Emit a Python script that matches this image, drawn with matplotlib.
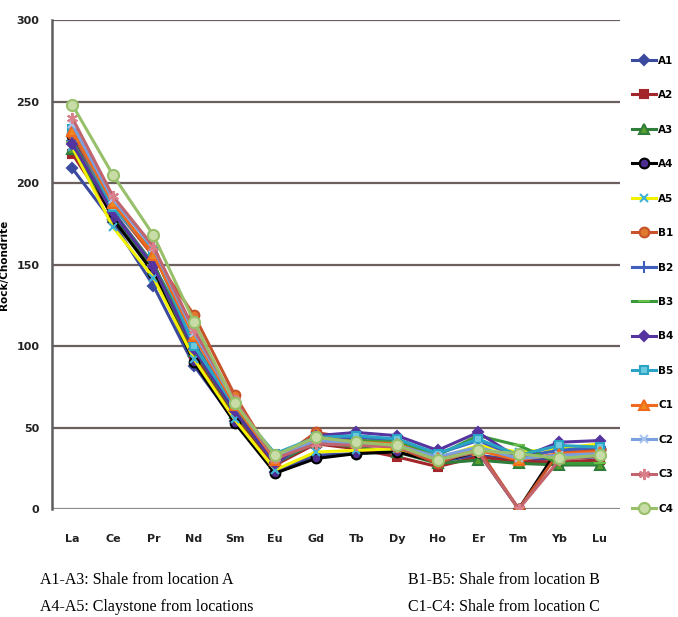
import numpy as np
import matplotlib
matplotlib.use("Agg")
import matplotlib.pyplot as plt

elements = ["La", "Ce", "Pr", "Nd", "Sm", "Eu", "Gd", "Tb", "Dy", "Ho", "Er", "Tm", "Yb", "Lu"]

# normalised REE values
A1 = [209, 176, 137, 88, 54, 23, 33, 34, 36, 29, 33, 30, 31, 32]
A2 = [218, 180, 146, 95, 57, 27, 40, 37, 32, 26, 32, 29, 29, 30]
A3 = [221, 181, 147, 97, 59, 28, 41, 38, 35, 28, 30, 28, 27, 27]
A4 = [229, 178, 145, 90, 53, 22, 31, 34, 35, 29, 35, 0, 38, 37]
A5 = [222, 173, 142, 92, 55, 24, 35, 36, 37, 31, 39, 35, 37, 40]
B1 = [230, 186, 155, 119, 70, 29, 47, 43, 38, 28, 37, 0, 35, 36]
B2 = [226, 183, 150, 102, 62, 28, 43, 44, 42, 34, 42, 32, 36, 38]
B3 = [225, 182, 150, 101, 61, 29, 42, 42, 41, 33, 45, 39, 28, 28]
B4 = [224, 182, 149, 98, 60, 28, 45, 47, 45, 36, 47, 31, 41, 42]
B5 = [233, 185, 158, 100, 63, 34, 44, 45, 43, 34, 43, 33, 39, 38]
C1 = [232, 188, 156, 106, 64, 30, 44, 41, 40, 31, 36, 30, 34, 35]
C2 = [236, 190, 160, 108, 66, 31, 42, 40, 39, 32, 38, 31, 33, 34]
C3 = [240, 192, 161, 110, 67, 31, 40, 39, 38, 30, 35, 0, 30, 33]
C4 = [248, 205, 168, 115, 65, 33, 44, 41, 39, 30, 36, 34, 31, 33]

samples = ["A1", "A2", "A3", "A4", "A5", "B1", "B2", "B3", "B4", "B5", "C1", "C2", "C3", "C4"]
values = [A1, A2, A3, A4, A5, B1, B2, B3, B4, B5, C1, C2, C3, C4]

# (line colour, marker, marker face, marker edge, marker size)
styles = [
    ("#3b4a9e", "D", "#3b4a9e", "#3b4a9e", 5),
    ("#a3262b", "s", "#a3262b", "#a3262b", 6),
    ("#2f7d3a", "^", "#5aa02c", "#2f7d3a", 7),
    ("#000000", "o", "#4b2d8f", "#000000", 7),
    ("#f2f200", "x", "#3fb3d6", "#3fb3d6", 6),
    ("#c8532a", "o", "#e07a2e", "#c8532a", 7),
    ("#3f5fbf", "+", "#3f5fbf", "#3f5fbf", 9),
    ("#3a9a3a", "_", "#6abf4b", "#6abf4b", 9),
    ("#5533a0", "D", "#5533a0", "#5533a0", 5),
    ("#2ba3c4", "s", "#6cc9e0", "#2ba3c4", 6),
    ("#f06a1e", "^", "#f08a20", "#f06a1e", 7),
    ("#7aa0e0", "x", "#a8c4f0", "#a8c4f0", 6),
    ("#c2646e", (6, 2, 0), "#d9808a", "#d9808a", 8),
    ("#98c06a", "o", "#c8dca8", "#98c06a", 8),
]

fig = plt.figure(figsize=(6.78, 6.17), dpi=100)
ax = fig.add_axes([0.0767, 0.175, 0.838, 0.7925])

x = np.arange(len(elements))
for name, vals, (lc, mk, mf, me, ms) in zip(samples, values, styles):
    ax.plot(x, vals, color=lc, lw=2.2, marker=mk, markerfacecolor=mf,
            markeredgecolor=me, markersize=ms, markeredgewidth=1.5, label=name)

ax.set_xlim(-0.5, len(elements) - 0.5)
ax.set_ylim(0, 300)
ax.set_yticks([0, 50, 100, 150, 200, 250, 300])
ax.set_xticks(x)
ax.set_xticklabels(elements)

for v in [50, 100, 150, 200, 250, 300]:
    ax.axhline(v, color="#6b605d", lw=1.6, zorder=0)
ax.axhline(0, color="#8a8a8a", lw=1.6, zorder=0)

for s in ["top", "right", "bottom"]:
    ax.spines[s].set_visible(False)
ax.spines["left"].set_color("#5e5e5e")
ax.spines["left"].set_linewidth(1.8)

ax.tick_params(axis="both", length=0, labelsize=8, colors="#222222")
ax.tick_params(axis="x", pad=18)
ax.tick_params(axis="y", pad=9)
for t in ax.get_xticklabels() + ax.get_yticklabels():
    t.set_fontweight("bold")

ax.set_ylabel("Rock/Chondrite", fontsize=7.5, fontweight="bold")
ax.yaxis.set_label_coords(-0.076, 0.5)

fig.legend(loc="upper left", bbox_to_anchor=(0.918, 0.925), frameon=False,
           prop={"weight": "bold", "size": 7.5},
           labelspacing=2.35, handlelength=2.3, handletextpad=0.25)

serif = "Liberation Serif"
fig.text(0.059, 0.054, "A1-A3: Shale from location A", fontsize=11.5, family=serif)
fig.text(0.059, 0.009, "A4-A5: Claystone from locations", fontsize=11.5, family=serif)
fig.text(0.602, 0.054, "B1-B5: Shale from location B", fontsize=11.5, family=serif)
fig.text(0.602, 0.009, "C1-C4: Shale from location C", fontsize=11.5, family=serif)

fig.savefig("out.png", dpi=100)
